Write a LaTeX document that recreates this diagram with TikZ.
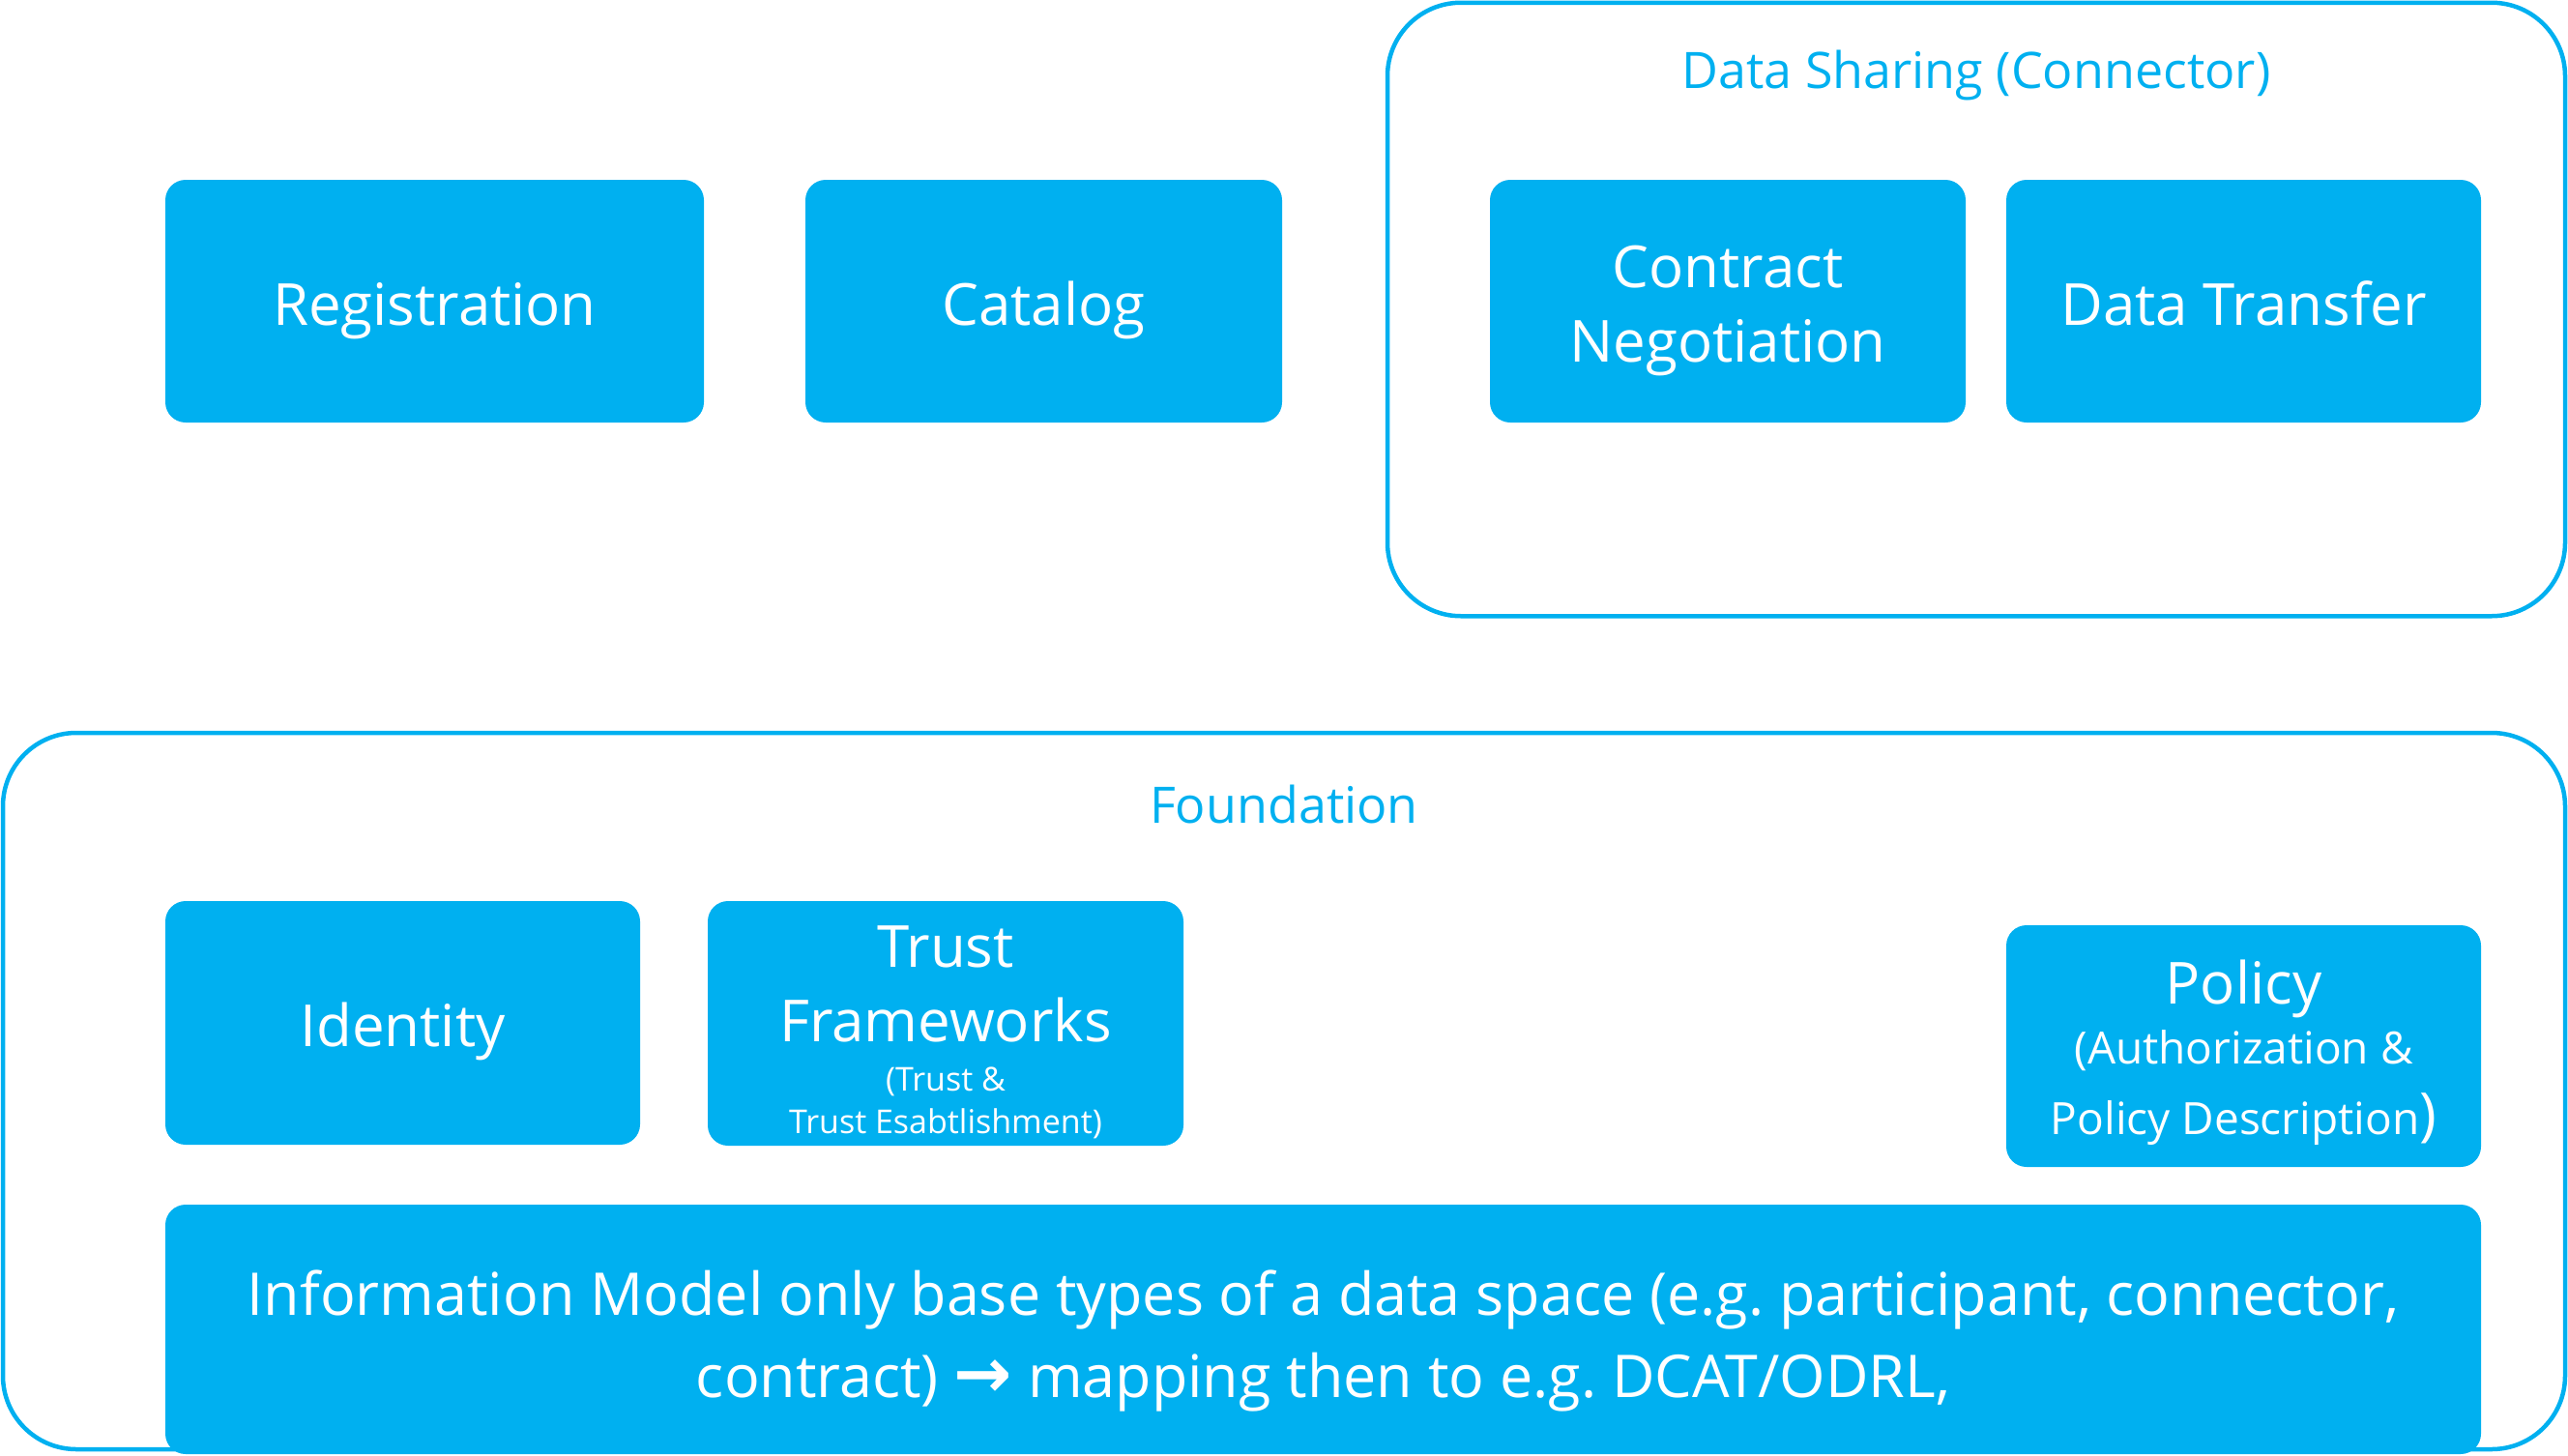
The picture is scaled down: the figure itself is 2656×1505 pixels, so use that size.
\documentclass[tikz,border=0pt]{standalone}
\usepackage{fontspec}
\setmainfont{Open Sans}
\newfontfamily\symfont{DejaVu Sans}
\definecolor{skyb}{RGB}{0,176,240}
\frenchspacing
\tikzset{
  box/.style={fill=skyb, draw=none, rounded corners=10.5pt, inner sep=0pt, outer sep=0pt},
  frame/.style={draw=skyb, line width=2.25pt, rounded corners=38pt, inner sep=0pt, outer sep=0pt},
  lbl/.style={anchor=base, text=white, inner sep=0pt, font=\fontsize{30}{36}\selectfont},
  infl/.style={lbl, font=\fontsize{30.5}{36}\selectfont},
  sml/.style={lbl, font=\fontsize{17}{20}\selectfont},
  mid/.style={lbl, font=\fontsize{23}{27}\selectfont},
  ttl/.style={anchor=base, text=skyb, inner sep=0pt, font=\fontsize{26}{30}\selectfont},
}
\begin{document}
\begin{tikzpicture}[x=0.5pt,y=-0.5pt]
\useasboundingbox (0,0) rectangle (2656,1505);
% outer frames
\node[frame, minimum width=609pt, minimum height=317.25pt] (ds) at (2044,320) {};
\node[frame, minimum width=1325pt, minimum height=370.5pt] (fd) at (1328,1128.5) {};
\node[ttl] (dst) at (2044,91) {Data Sharing (Connector)};
\node[ttl] (fdt) at (1328,851) {Foundation};
% top row boxes
\node[box, minimum width=278.5pt, minimum height=125.5pt] (reg) at (449.5,311.5) {};
\node[box, minimum width=246.5pt, minimum height=125.5pt] (cat) at (1079.5,311.5) {};
\node[box, minimum width=246pt, minimum height=125.5pt] (con) at (1787,311.5) {};
\node[box, minimum width=245.5pt, minimum height=125.5pt] (dtr) at (2320.5,311.5) {};
\node[lbl] (regt) at (449.5,336) {Registration};
\node[lbl] (catt) at (1079.5,336) {Catalog};
\node[lbl] (cont1) at (1787,297) {Contract};
\node[lbl] (cont2) at (1787,374) {Negotiation};
\node[lbl] (dtrt) at (2320.5,336) {Data Transfer};
% foundation boxes
\node[box, minimum width=245.5pt, minimum height=126pt] (idn) at (416.5,1058) {};
\node[box, minimum width=246pt, minimum height=126.5pt] (tru) at (978,1058.5) {};
\node[box, minimum width=245.5pt, minimum height=125pt] (pol) at (2320.5,1082) {};
\node[lbl] (idnt) at (416.5,1082) {Identity};
\node[lbl] (trut1) at (978,1000) {Trust};
\node[lbl] (trut2) at (978,1077) {Frameworks};
\node[sml] (trut3) at (978,1128) {(Trust \&};
\node[sml] (trut4) at (978,1172) {Trust Esabtlishment)};
\node[lbl] (polt1) at (2320.5,1038) {Policy};
\node[mid] (polt2) at (2320.5,1100) {(Authorization \&};
\node[mid] (polt3) at (2320.5,1173) {Policy Description{\fontsize{30}{36}\selectfont)}};
% information model
\node[box, minimum width=1197.5pt, minimum height=129pt] (inf) at (1368.5,1375) {};
\node[infl] (inft1) at (1368.5,1360) {Information Model only base types of a data space (e.g. participant, connector,};
\node[infl] (inft2) at (1368.5,1445) {contract) {\symfont\bfseries\fontsize{36}{36}\selectfont →} mapping then to e.g. DCAT/ODRL,};
\end{tikzpicture}
\end{document}
